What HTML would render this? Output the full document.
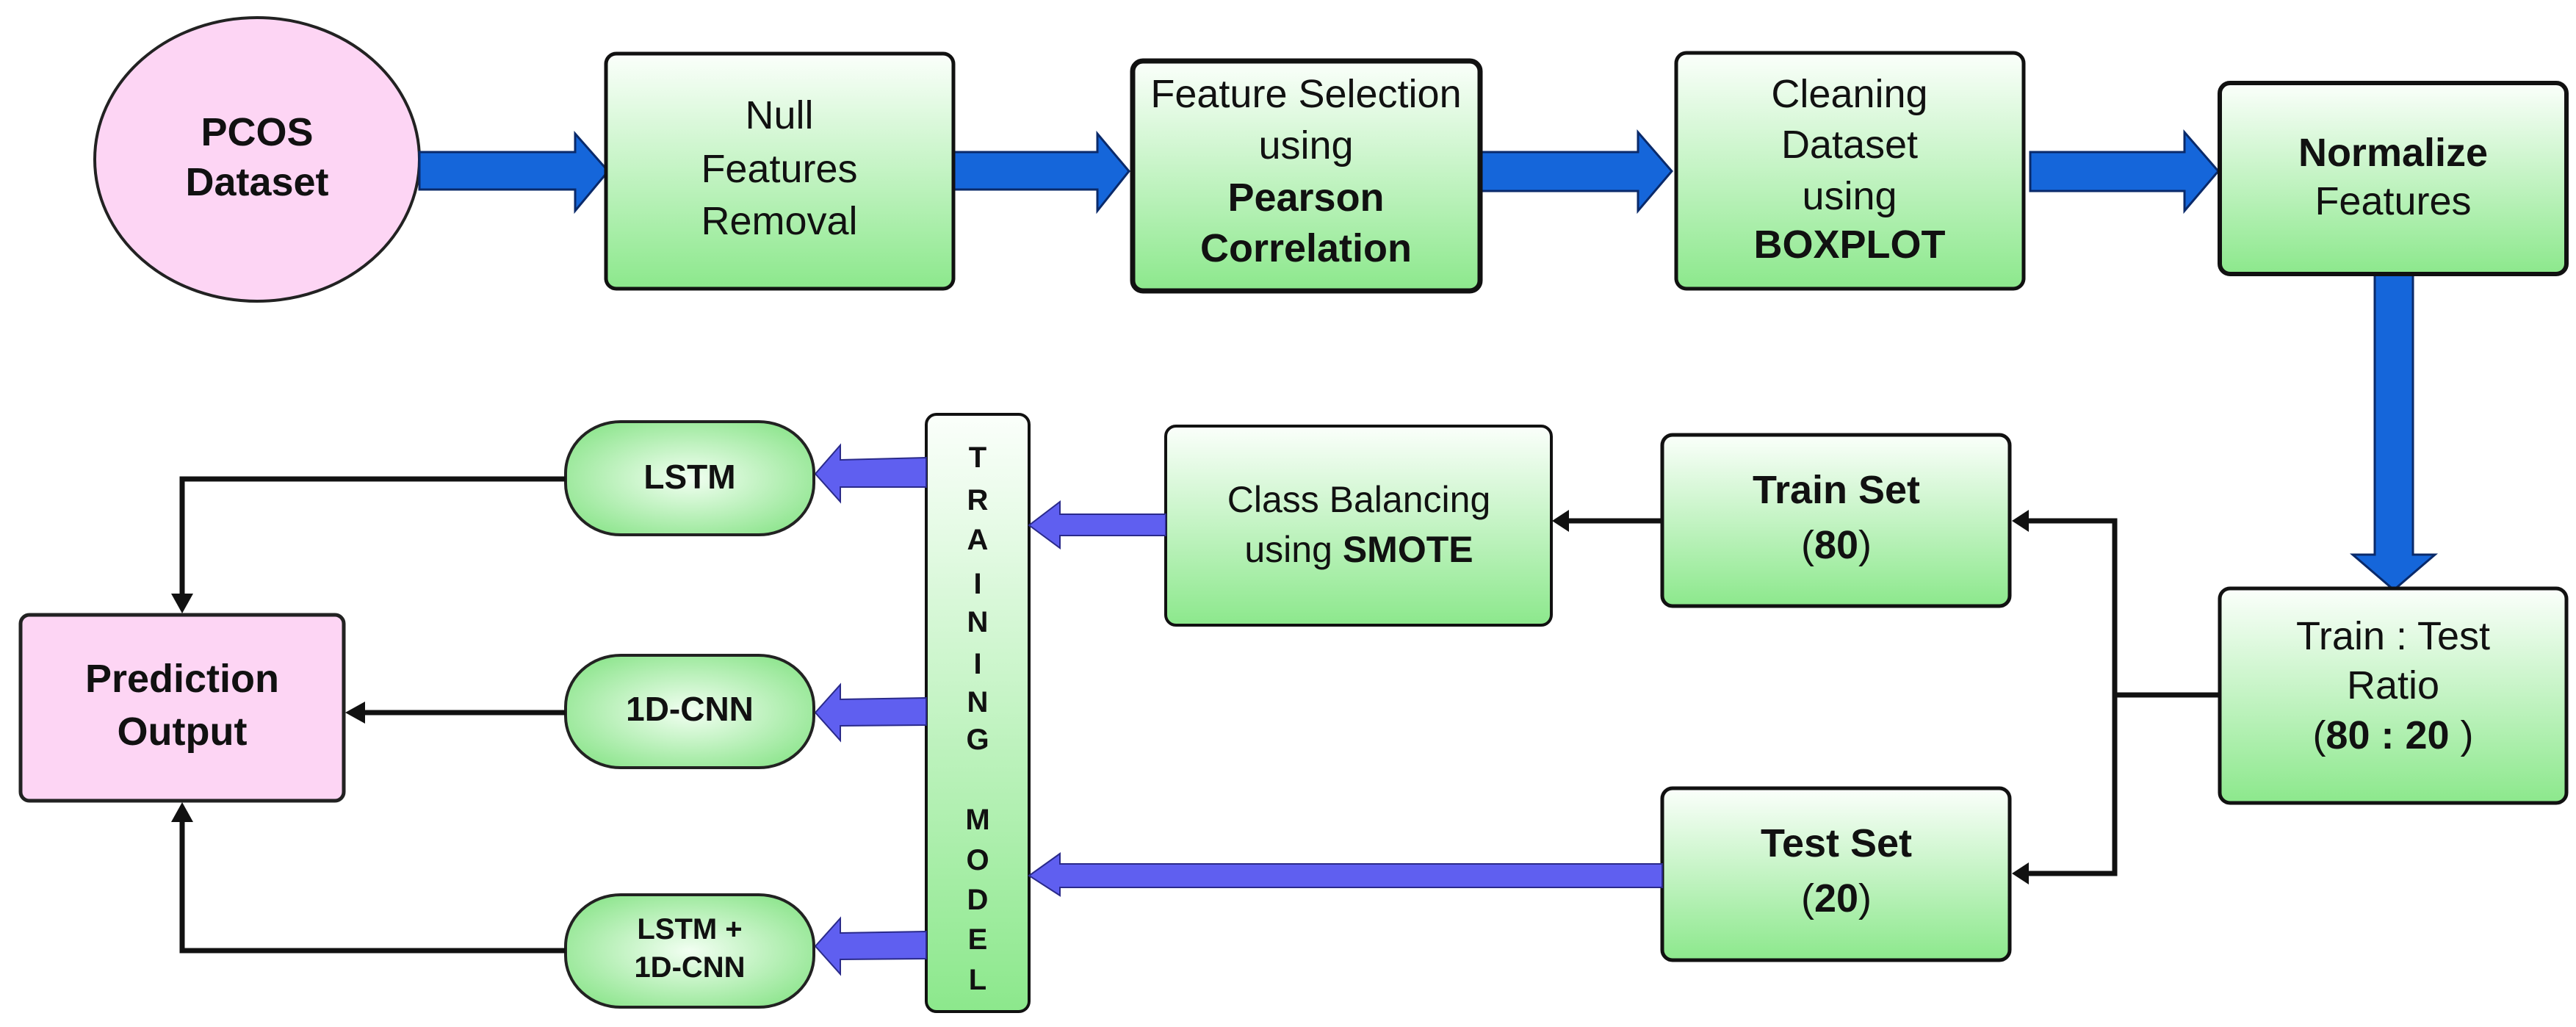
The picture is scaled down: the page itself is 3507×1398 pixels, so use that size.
<!DOCTYPE html>
<html><head><meta charset="utf-8"><style>
html,body{margin:0;padding:0;background:#fff;}
svg{display:block;}
text{font-family:"Liberation Sans",Arial,sans-serif;fill:#111;text-anchor:middle;}
.b{font-weight:bold;}
</style></head><body>
<svg width="3507" height="1398" viewBox="0 0 3507 1398" xmlns="http://www.w3.org/2000/svg">
<defs>
<linearGradient id="g" x1="0" y1="0" x2="0" y2="1">
<stop offset="0" stop-color="#fbfffb"/><stop offset="1" stop-color="#8ce88c"/></linearGradient>
<radialGradient id="rg" cx="0.5" cy="0.5" r="0.6">
<stop offset="0" stop-color="#f2fff2"/><stop offset="1" stop-color="#8ee58e"/></radialGradient>
<marker id="ah" markerWidth="10" markerHeight="10" refX="8" refY="5" orient="auto" markerUnits="userSpaceOnUse" viewBox="0 0 10 10">
</marker>
</defs>

<!-- PCOS ellipse -->
<ellipse cx="350" cy="217" rx="221" ry="193" fill="#fdd5f4" stroke="#222" stroke-width="4"/>
<text class="b" x="350" y="198" font-size="54">PCOS</text>
<text class="b" x="350" y="266" font-size="54">Dataset</text>

<!-- blue horizontal arrows -->
<g fill="#1566da" stroke="#0a2a6a" stroke-width="3">
<polygon points="571,207 783,207 783,182 828,233 783,287 783,258 571,258"/>
<polygon points="1298,207 1494,207 1494,182 1537,233 1494,287 1494,258 1298,258"/>
<polygon points="2015,207 2230,207 2230,180 2276,233 2230,287 2230,260 2015,260"/>
<polygon points="2764,207 2974,207 2974,180 3020,233 2974,287 2974,260 2764,260"/>
<polygon points="3233,373 3285,373 3285,755 3315,755 3259,803 3203,755 3233,755"/>
</g>

<!-- top boxes -->
<g stroke="#111" stroke-width="5" fill="url(#g)">
<rect x="825" y="73" width="473" height="320" rx="14"/>
<rect x="1542" y="83" width="473" height="313" rx="14" stroke-width="7"/>
<rect x="2282" y="72" width="473" height="321" rx="14"/>
<rect x="3022" y="113" width="472" height="260" rx="14" stroke-width="6"/>
<rect x="3022" y="801" width="472" height="292" rx="14"/>
<rect x="2263" y="592" width="473" height="233" rx="14"/>
<rect x="2263" y="1073" width="473" height="234" rx="14"/>
<rect x="1587" y="580" width="525" height="271" rx="14" stroke-width="4"/>
<rect x="1261" y="564" width="140" height="813" rx="14" stroke-width="4"/>
</g>

<g font-size="54">
<text x="1061" y="175">Null</text>
<text x="1061" y="248">Features</text>
<text x="1061" y="319">Removal</text>

<text x="1778" y="146">Feature Selection</text>
<text x="1778" y="216">using</text>
<text class="b" x="1778" y="287">Pearson</text>
<text class="b" x="1778" y="356">Correlation</text>

<text x="2518" y="146">Cleaning</text>
<text x="2518" y="215">Dataset</text>
<text x="2518" y="285">using</text>
<text class="b" x="2518" y="351">BOXPLOT</text>

<text class="b" x="3258" y="226">Normalize</text>
<text x="3258" y="292">Features</text>

<text x="3258" y="884">Train : Test</text>
<text x="3258" y="951">Ratio</text>
<text x="3258" y="1019">(<tspan class="b">80 : 20</tspan> )</text>

<text class="b" x="2500" y="685">Train Set</text>
<text x="2500" y="760">(<tspan class="b">80</tspan>)</text>
<text class="b" x="2500" y="1166">Test Set</text>
<text x="2500" y="1241">(<tspan class="b">20</tspan>)</text>

<text x="1850" y="697" font-size="50">Class Balancing</text>
<text x="1850" y="765" font-size="50">using <tspan class="b">SMOTE</tspan></text>
</g>

<!-- black bracket connectors -->
<g stroke="#111" stroke-width="7" fill="none">
<polyline points="3022,946 2879,946"/>
<polyline points="2758,709 2879,709 2879,1189 2758,1189"/>
<line x1="2263" y1="709" x2="2132" y2="709"/>
</g>
<g fill="#111">
<polygon points="2739,709 2762,694 2762,724"/>
<polygon points="2739,1189 2762,1174 2762,1204"/>
<polygon points="2113,709 2136,694 2136,724"/>
</g>

<!-- purple arrows -->
<g fill="#5f5ff0" stroke="#2a2a8a" stroke-width="2">
<polygon points="1587,700 1443,700 1443,683 1401,715 1443,746 1443,729 1587,729"/>
<polygon points="2263,1176 1443,1176 1443,1162 1401,1192 1443,1219 1443,1208 2263,1208"/>
<polygon points="1261,623 1144,626 1144,606 1110,645 1144,683 1144,663 1261,663"/>
<polygon points="1261,950 1144,952 1144,932 1110,970 1144,1008 1144,988 1261,987"/>
<polygon points="1261,1268 1144,1270 1144,1250 1110,1288 1144,1326 1144,1306 1261,1305"/>
</g>

<!-- training model letters -->
<g class="b" font-size="40" font-weight="bold">
<text class="b" x="1331" y="636">T</text>
<text class="b" x="1331" y="694">R</text>
<text class="b" x="1331" y="748">A</text>
<text class="b" x="1331" y="808">I</text>
<text class="b" x="1331" y="860">N</text>
<text class="b" x="1331" y="917">I</text>
<text class="b" x="1331" y="969">N</text>
<text class="b" x="1331" y="1020">G</text>
<text class="b" x="1331" y="1129">M</text>
<text class="b" x="1331" y="1184">O</text>
<text class="b" x="1331" y="1238">D</text>
<text class="b" x="1331" y="1292">E</text>
<text class="b" x="1331" y="1347">L</text>
</g>

<!-- pills -->
<g stroke="#222" stroke-width="4" fill="url(#rg)">
<rect x="770" y="574" width="338" height="154" rx="75" ry="70"/>
<rect x="770" y="892" width="338" height="153" rx="75" ry="70"/>
<rect x="770" y="1218" width="338" height="153" rx="75" ry="70"/>
</g>
<text class="b" x="939" y="665" font-size="46">LSTM</text>
<text class="b" x="939" y="981" font-size="46">1D-CNN</text>
<text class="b" x="939" y="1278" font-size="40">LSTM +</text>
<text class="b" x="939" y="1330" font-size="40">1D-CNN</text>

<!-- prediction output -->
<rect x="28" y="837" width="440" height="253" rx="12" fill="#fdd5f4" stroke="#222" stroke-width="5"/>
<text class="b" x="248" y="942" font-size="54">Prediction</text>
<text class="b" x="248" y="1014" font-size="54">Output</text>

<g stroke="#111" stroke-width="7" fill="none">
<polyline points="770,652 248,652 248,812"/>
<line x1="770" y1="970" x2="490" y2="970"/>
<polyline points="770,1294 248,1294 248,1112"/>
</g>
<g fill="#111">
<polygon points="248,835 233,808 263,808"/>
<polygon points="470,970 497,955 497,985"/>
<polygon points="248,1092 233,1119 263,1119"/>
</g>
</svg>
</body></html>
